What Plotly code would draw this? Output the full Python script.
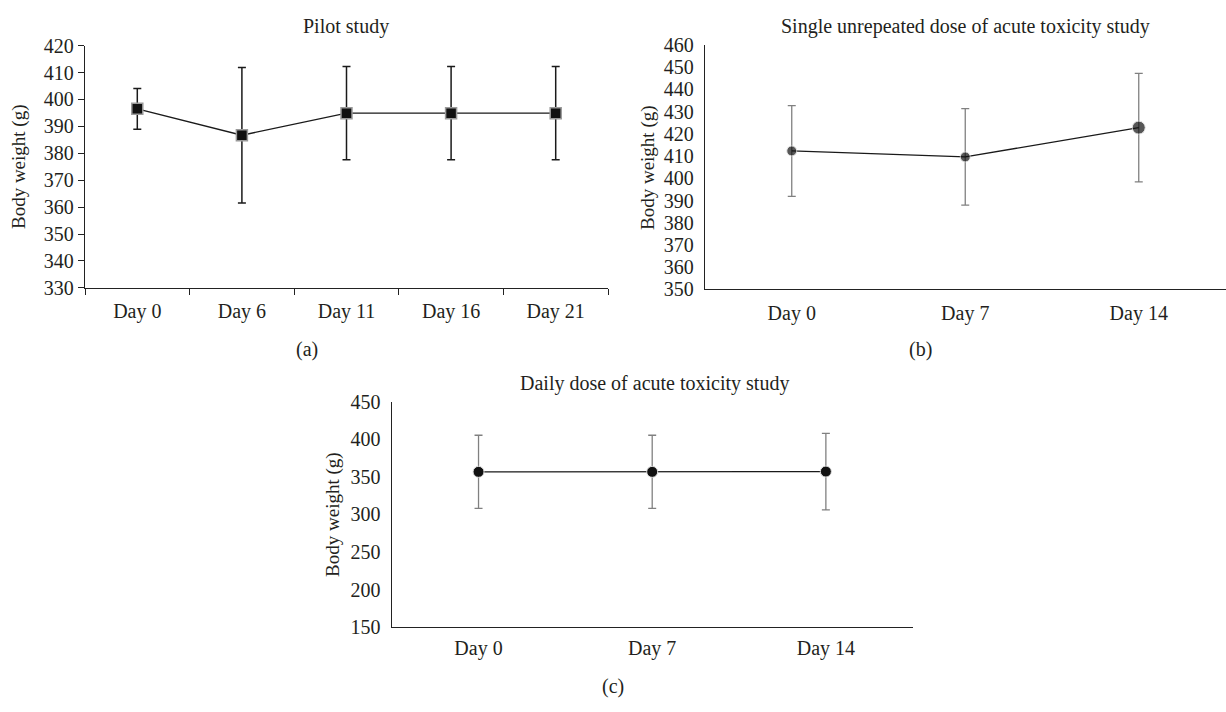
import plotly.graph_objects as go

# ---- data ----
a_days = ["Day 0", "Day 6", "Day 11", "Day 16", "Day 21"]
a_mean = [396.5, 386.7, 394.9, 394.9, 394.9]
a_sd = [7.6, 25.2, 17.3, 17.3, 17.3]

b_days = ["Day 0", "Day 7", "Day 14"]
b_mean = [412.3, 409.6, 422.8]
b_sd = [20.4, 21.7, 24.4]

c_days = ["Day 0", "Day 7", "Day 14"]
c_mean = [356.6, 356.6, 357.0]
c_sd = [48.6, 48.6, 50.8]

titles = ["Pilot study", "Single unrepeated dose of acute toxicity study",
          "Daily dose of acute toxicity study"]
panel_labels = ["(a)", "(b)", "(c)"]
ytitle = "Body weight (g)"

W, H = 1226, 712
FONT = "Liberation Serif"
TXT = "#231F20"

def px_x(p):
    return p / W

def px_y(p):
    return 1 - p / H

fig = go.Figure()

# (a)
fig.add_trace(go.Scatter(
    x=a_days, y=a_mean, mode="lines+markers",
    line=dict(color="#1a1a1a", width=1.3),
    marker=dict(symbol="square", size=11, color="#111111",
                line=dict(color="#9a9a9a", width=1.5)),
    error_y=dict(type="data", array=a_sd, color="#1a1a1a", thickness=1.5, width=4),
    xaxis="x", yaxis="y", showlegend=False))

# (b)
fig.add_trace(go.Scatter(
    x=b_days, y=b_mean, mode="lines+markers",
    line=dict(color="#1a1a1a", width=1.3),
    marker=dict(symbol="circle", size=[10, 10, 13], color="#111111",
                line=dict(color="#e0e0e0", width=1)),
    error_y=dict(type="data", array=b_sd, color="#808080", thickness=1.3, width=4),
    xaxis="x2", yaxis="y2", showlegend=False))

# (c)
fig.add_trace(go.Scatter(
    x=c_days, y=c_mean, mode="lines+markers",
    line=dict(color="#1a1a1a", width=1.3),
    marker=dict(symbol="circle", size=11, color="#111111",
                line=dict(color="#e0e0e0", width=1)),
    error_y=dict(type="data", array=c_sd, color="#808080", thickness=1.3, width=4),
    xaxis="x3", yaxis="y3", showlegend=False))

tickfont = dict(family=FONT, size=20, color=TXT)

def xaxis(dom, anchor, n, ticks_visible, standoff):
    return dict(domain=dom, anchor=anchor, type="category",
                range=[-0.5, n - 0.5], showline=True, linecolor="#222",
                linewidth=1.3, showgrid=False, zeroline=False,
                ticks="outside", tickson="boundaries", ticklen=6,
                tickcolor="#222" if ticks_visible else "rgba(0,0,0,0)",
                tickwidth=1.2, tickfont=tickfont, ticklabelstandoff=standoff,
                fixedrange=True)

def yaxis(dom, anchor, rng, dtick, ticks_visible):
    return dict(domain=dom, anchor=anchor, range=rng, dtick=dtick,
                tick0=rng[0], showline=True, linecolor="#222", linewidth=1.3,
                showgrid=False, zeroline=False, ticks="outside", ticklen=6,
                tickcolor="#222" if ticks_visible else "rgba(0,0,0,0)",
                tickwidth=1.2, tickfont=tickfont, fixedrange=True)

fig.update_layout(
    width=W, height=H, margin=dict(l=0, r=0, t=0, b=0),
    paper_bgcolor="white", plot_bgcolor="white",
    xaxis=xaxis([px_x(85), px_x(608)], "y", 5, True, 5),
    yaxis=yaxis([px_y(285.7), px_y(35.7)], "x", [330, 420], 10, True),
    xaxis2=xaxis([px_x(705), px_x(1225.5)], "y2", 3, False, 5),
    yaxis2=yaxis([px_y(287.3), px_y(35)], "x2", [350, 460], 10, False),
    xaxis3=xaxis([px_x(391.7), px_x(912.7)], "y3", 3, False, 3),
    yaxis3=yaxis([px_y(636), px_y(403)], "x3", [150, 450], 50, False),
)

ann = []
# titles
for t, (x, y) in zip(titles, [(346, 16), (965, 16), (654, 384)]):
    ann.append(dict(text=t, x=px_x(x), y=px_y(y), xref="paper", yref="paper",
                    showarrow=False, xanchor="center", yanchor="middle",
                    font=dict(family=FONT, size=20, color=TXT)))
# panel labels
for t, (x, y) in zip(panel_labels, [(307, 349), (920, 349), (613, 697)]):
    ann.append(dict(text=t, x=px_x(x), y=px_y(y), xref="paper", yref="paper",
                    showarrow=False, xanchor="center", yanchor="middle",
                    font=dict(family=FONT, size=20, color=TXT)))
# y titles
for (x, y) in [(19, 161), (648, 162), (333, 520)]:
    ann.append(dict(text=ytitle, x=px_x(x), y=px_y(y), xref="paper", yref="paper",
                    showarrow=False, xanchor="center", yanchor="middle",
                    textangle=-90, font=dict(family=FONT, size=19, color=TXT)))
fig.update_layout(annotations=ann)

fig.write_html("out.html")
